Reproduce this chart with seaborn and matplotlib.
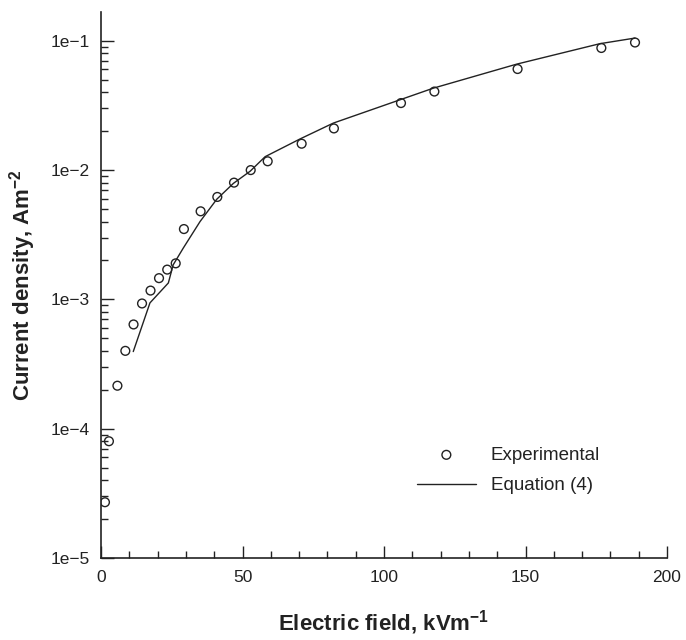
import numpy as np
import pandas as pd
import matplotlib
matplotlib.use("Agg")
import matplotlib.pyplot as plt
from matplotlib.ticker import FixedLocator, FixedFormatter, LogLocator, MultipleLocator, NullFormatter
import seaborn as sns

# Experimental data
exp_field = [1.4, 2.8, 5.8, 8.6, 11.5, 14.5, 17.5, 20.5, 23.4, 26.4, 29.3, 35.2,
             41.1, 47.0, 52.9, 58.9, 70.9, 82.3, 106.0, 117.8, 147.2, 176.8, 188.7]
exp_current = [2.7e-5, 8.0e-5, 2.15e-4, 4.0e-4, 6.4e-4, 9.3e-4, 1.17e-3, 1.46e-3,
               1.70e-3, 1.9e-3, 3.5e-3, 4.8e-3, 6.2e-3, 8.0e-3, 1.0e-2, 1.17e-2,
               1.6e-2, 2.1e-2, 3.3e-2, 4.05e-2, 6.05e-2, 8.8e-2, 9.7e-2]

# Equation (4)
eq_field = [11.4, 17.3, 23.8, 25.5, 29.1, 35.0, 40.9, 46.8, 52.7, 58.0, 70.3,
            82.1, 105.7, 117.4, 146.9, 176.3, 188.7]
eq_current = [3.95e-4, 9.4e-4, 1.34e-3, 1.85e-3, 2.5e-3, 4.0e-3, 5.95e-3, 7.9e-3,
              9.8e-3, 1.27e-2, 1.74e-2, 2.31e-2, 3.5e-2, 4.3e-2, 6.6e-2, 9.5e-2, 1.05e-1]

x_ticks = [0, 50, 100, 150, 200]
x_ticklabels = ["0", "50", "100", "150", "200"]
y_ticks = [1e-5, 1e-4, 1e-3, 1e-2, 1e-1]
y_ticklabels = ["1e\u22125", "1e\u22124", "1e\u22123", "1e\u22122", "1e\u22121"]

sns.set_theme(style="ticks")
plt.rcParams["font.family"] = ["Liberation Sans", "DejaVu Sans"]
plt.rcParams["mathtext.fontset"] = "custom"
plt.rcParams["mathtext.rm"] = "Liberation Sans"
plt.rcParams["mathtext.bf"] = "Liberation Sans:bold"
plt.rcParams["mathtext.default"] = "regular"

ink = "#222222"
fig = plt.figure(figsize=(6.86, 6.40), dpi=100)
ax = fig.add_axes([101 / 686, 82 / 640, 566 / 686, 546 / 640])

df_exp = pd.DataFrame({"field": exp_field, "current": exp_current})
df_eq = pd.DataFrame({"field": eq_field, "current": eq_current})

sns.scatterplot(data=df_exp, x="field", y="current", marker="o", s=40,
                facecolor="none", edgecolor=ink, linewidth=1.0,
                label="Experimental", ax=ax, zorder=3)
sns.lineplot(data=df_eq, x="field", y="current", color=ink, linewidth=1.0,
             label="Equation (4)", ax=ax, sort=False, estimator=None)

ax.set_yscale("log")
ax.set_xlim(0, 200)
ax.set_ylim(1e-5, 0.167)

ax.xaxis.set_major_locator(FixedLocator(x_ticks))
ax.xaxis.set_major_formatter(FixedFormatter(x_ticklabels))
ax.xaxis.set_minor_locator(MultipleLocator(10))
ax.yaxis.set_major_locator(FixedLocator(y_ticks))
ax.yaxis.set_major_formatter(FixedFormatter(y_ticklabels))
ax.yaxis.set_minor_locator(LogLocator(base=10, subs=np.arange(2, 10), numticks=20))
ax.yaxis.set_minor_formatter(NullFormatter())

ax.tick_params(which="major", direction="in", length=9, width=1.0, color=ink,
               labelsize=12.5, labelcolor=ink, pad=8)
ax.tick_params(which="minor", direction="in", length=5, width=1.0, color=ink)
ax.tick_params(axis="x", which="major", pad=9)

for side in ["top", "right"]:
    ax.spines[side].set_visible(False)
for side in ["left", "bottom"]:
    ax.spines[side].set_linewidth(1.2)
    ax.spines[side].set_color(ink)

ax.set_xlabel("Electric field, kVm$^{-1}$", fontsize=16, fontweight="bold",
              color=ink, labelpad=16)
ax.set_ylabel("Current density, Am$^{-2}$", fontsize=16, fontweight="bold",
              color=ink, labelpad=9)

leg = ax.legend(loc="upper left", bbox_to_anchor=(0.558, 0.204), frameon=False,
                fontsize=13.5, handlelength=3.15, handletextpad=0.78,
                labelspacing=0.72, borderpad=0, borderaxespad=0)
for t in leg.get_texts():
    t.set_color(ink)

fig.savefig("out.png", dpi=100)
